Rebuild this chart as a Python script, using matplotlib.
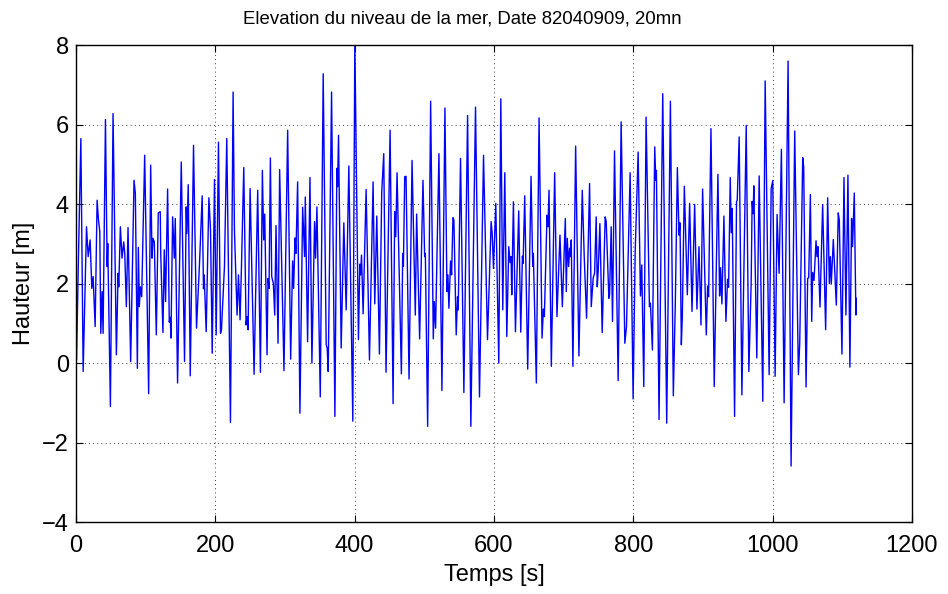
import numpy as np
import matplotlib
matplotlib.use("Agg")
import matplotlib.pyplot as plt

# Sea surface elevation record (peaks / troughs)
time_s = [
    0, 1.0, 3.3, 7.2, 10.5, 15.3, 17.7, 20.5, 22.9, 24.8, 27.7, 30.5, 32.5, 34.4, 35.8, 37.7, 39.1,
    42.5, 44.9, 45.8, 49.6, 53.4, 58.2, 60.6, 61.6, 63.9, 66.3, 68.7, 70.2, 72.5, 74.9, 78.7, 83.5,
    85.4, 88.3, 89.7, 91.1, 92.6, 94.5, 98.8, 104.5, 107.4, 109.3, 110.7, 112.6, 115.5, 118.3, 121.2,
    121.7, 125.0, 126.9, 128.8, 131.7, 134.1, 135.5, 136.5, 138.9, 141.3, 142.7, 146.0, 151.3, 156.0,
    158.4, 159.4, 161.3, 164.2, 168.9, 173.2, 177.5, 181.3, 183.2, 184.2, 187.1, 190.9, 193.3, 195.7,
    199.0, 201.4, 204.7, 207.6, 209.0, 213.3, 216.6, 221.9, 225.7, 227.6, 231.4, 233.4, 235.7, 237.7,
    241.0, 244.3, 245.7, 247.2, 250.1, 255.8, 261.0, 264.9, 267.7, 269.6, 271.1, 274.4, 275.8, 277.3,
    279.2, 281.1, 283.5, 285.4, 287.3, 290.2, 292.5, 298.7, 304.0, 308.3, 311.1, 312.6, 314.5, 315.9,
    318.3, 321.6, 325.5, 328.3, 329.3, 332.6, 336.0, 338.8, 342.6, 344.1, 346.0, 350.8, 355.0, 359.3,
    360.7, 362.2, 367.0, 371.8, 374.6, 375.6, 377.0, 380.8, 384.6, 388.0, 391.8, 397.5, 400.4, 405.6,
    407.5, 408.5, 410.0, 412.3, 416.6, 421.4, 426.6, 429.0, 431.9, 435.7, 439.0, 441.9, 445.2, 451.0,
    455.3, 457.6, 459.1, 461.0, 467.2, 469.1, 470.1, 472.0, 473.9, 478.2, 482.5, 487.2, 489.1, 493.4,
    498.2, 500.6, 501.6, 504.9, 509.2, 513.0, 514.4, 516.3, 521.1, 525.4, 529.7, 532.6, 534.0, 535.4,
    537.8, 539.3, 541.2, 542.6, 545.9, 547.8, 548.8, 552.1, 556.9, 562.2, 566.9, 573.6, 579.3, 585.1,
    590.8, 596.0, 597.5, 599.4, 602.7, 607.0, 609.9, 612.7, 615.6, 618.5, 621.3, 623.2, 624.7, 625.6,
    628.0, 630.9, 635.6, 638.5, 640.9, 641.9, 644.2, 648.5, 653.3, 655.7, 656.6, 660.9, 664.8, 669.1,
    671.0, 672.4, 676.2, 677.6, 679.1, 682.4, 687.2, 690.5, 694.8, 698.2, 702.5, 703.9, 705.3, 707.2,
    708.7, 709.6, 711.0, 713.4, 717.3, 722.0, 726.8, 729.7, 733.0, 737.3, 739.7, 742.5, 744.5, 746.8,
    748.3, 749.7, 752.1, 755.4, 759.7, 761.2, 765.0, 766.0, 768.3, 770.2, 773.1, 778.3, 782.6, 787.9,
    790.3, 795.5, 799.8, 802.7, 807.0, 810.3, 812.2, 815.1, 818.4, 823.2, 824.6, 827.5, 830.8, 832.3,
    833.2, 837.0, 842.3, 848.0, 853.3, 857.5, 860.4, 863.3, 865.7, 867.1, 869.0, 870.4, 873.3, 877.6,
    880.9, 884.3, 888.1, 891.4, 894.3, 897.2, 899.5, 904.8, 906.7, 908.1, 911.5, 916.2, 921.5, 923.9,
    925.3, 927.2, 930.1, 933.0, 935.3, 936.8, 939.2, 940.6, 942.0, 945.4, 948.2, 949.2, 952.0, 955.9,
    962.1, 965.9, 969.2, 970.6, 972.1, 973.0, 977.3, 980.7, 985.9, 989.3, 995.0, 997.9, 1000.2, 1003.6,
    1006.4, 1009.3, 1012.6, 1016.5, 1022.2, 1026.5, 1031.7, 1037.0, 1038.9, 1043.2, 1044.6, 1048.0,
    1050.3, 1051.8, 1054.2, 1056.1, 1057.5, 1059.4, 1062.3, 1063.7, 1065.1, 1068.0, 1071.8, 1076.1,
    1079.0, 1081.4, 1082.8, 1084.2, 1087.1, 1091.4, 1094.2, 1095.7, 1099.5, 1102.4, 1105.2, 1108.1,
    1110.9, 1113.3, 1114.7, 1117.2, 1119.5, 1120.0,
]
height_m = [
    1.59, 0.08, 2.26, 5.65, -0.21, 3.43, 2.68, 3.10, 1.88, 2.18, 0.92, 4.10, 3.60, 3.31, 0.75, 1.80, 0.75,
    6.13, 2.43, 3.01, -1.09, 6.28, 0.21, 2.26, 1.92, 3.43, 2.64, 3.05, 2.76, 1.42, 3.41, 0.04, 4.60,
    4.27, -0.13, 2.91, 1.42, 1.92, 1.67, 5.23, -0.77, 4.98, 2.64, 3.14, 3.05, 0.71, 3.78, 3.81,
    2.85, 0.77, 2.85, 1.55, 4.38, 1.03, 1.15, 0.63, 3.68, 2.64, 3.64, -0.50, 5.06, 0.04,
    3.93, 3.26, 4.49, -0.32, 5.48, 0.88, 2.51, 4.21, 1.87, 2.22, 0.79, 4.16, 3.35, 0.25,
    4.62, 0.71, 5.56, 0.75, 0.84, 2.43, 5.65, -1.49, 6.82, 3.35, 1.21, 2.22, 1.09, 2.43,
    4.92, 0.96, 1.17, 0.84, 4.39, -0.28, 4.35, -0.23, 4.85, 3.10, 3.75, 0.21, 2.13, 1.88,
    5.16, 2.18, 2.00, 1.21, 3.46, 0.50, 4.87, -0.19, 5.86, 0.10, 2.57, 1.88, 3.15, 2.76,
    4.56, -1.26, 3.92, 2.68, 4.18, 0.54, 4.67, 0.00, 3.56, 2.64, 3.93, -0.85, 7.28, 0.46,
    0.38, -0.21, 6.82, -1.34, 4.90, 4.44, 5.73, 0.38, 3.53, 1.34, 4.96, -1.46, 8.10, 0.59,
    2.49, 2.22, 2.72, 1.24, 4.37, 0.08, 4.56, 1.49, 3.70, 0.23, 4.29, 5.27, -0.23, 5.86,
    -1.02, 3.81, 3.18, 4.79, -0.27, 2.76, 2.44, 4.69, 4.70, -0.40, 5.10, 1.21, 3.75, 0.61,
    4.60, 2.68, 2.76, -1.59, 6.59, 0.61, 1.55, 0.88, 5.27, -0.69, 6.42, 1.80, 2.22, 1.38,
    2.57, 2.22, 3.66, 3.60, 0.71, 1.67, 1.34, 5.15, -0.74, 6.23, -1.59, 6.44, -0.85, 5.23,
    0.59, 3.56, 3.27, 2.38, 4.02, 0.00, 6.65, 1.34, 4.79, 0.67, 2.93, 2.53, 2.68, 1.72,
    4.06, 0.79, 3.83, 0.78, 2.69, 2.51, 4.21, -0.15, 4.70, 2.43, 2.76, -0.50, 6.17, 0.63,
    1.36, 1.17, 3.72, 3.43, 4.35, -0.08, 4.79, 1.17, 3.22, 1.42, 3.64, 1.80, 3.14, 2.43,
    2.89, 2.68, 3.10, -0.08, 5.46, 0.18, 4.35, 2.64, 1.13, 4.52, 1.42, 2.15, 2.26, 3.68,
    1.92, 2.34, 3.51, 0.77, 3.68, 3.56, 1.63, 1.72, 3.43, 1.05, 5.34, -0.44, 6.07, 0.50,
    0.92, 4.79, -0.90, 2.76, 5.31, 1.69, 2.47, -0.59, 6.19, 1.42, 1.51, 0.33, 5.44, 4.60,
    4.85, -1.42, 6.78, -1.51, 6.59, -0.82, 1.55, 4.92, 3.22, 3.53, 0.46, 1.17, 4.45, 1.72,
    4.02, 1.30, 3.99, 1.36, 2.93, 0.96, 4.38, 0.71, 1.94, 1.67, 5.90, -0.59, 4.75, 1.69,
    2.40, 1.49, 3.70, 1.05, 2.11, 1.91, 4.67, 3.28, 3.89, -1.34, 4.06, 4.10, 5.69, -0.80,
    5.98, -0.21, 2.01, 4.07, 3.76, 4.46, 0.13, 4.71, -0.96, 7.10, -0.29, 4.39, 4.59, -0.33,
    3.74, 2.26, 5.38, -1.00, 7.60, -2.59, 5.84, -0.29, 0.50, 5.17, 4.94, -0.60,
    2.13, 2.15, 4.24, 1.05, 2.28, 2.08, 3.08, 2.68, 2.93, 1.41, 3.99, 0.84,
    4.16, 2.00, 2.68, 2.00, 3.11, 1.46, 3.78, 3.60, 0.23, 4.67, 1.21, 4.73,
    -0.10, 3.64, 2.93, 4.28, 1.21, 1.63,
]

x_ticks = [0, 200, 400, 600, 800, 1000, 1200]
y_ticks = [-4, -2, 0, 2, 4, 6, 8]

plt.rcParams['font.family'] = ['Liberation Sans', 'DejaVu Sans']

fig = plt.figure(figsize=(9.48, 5.94), dpi=100)
ax = fig.add_axes([0.080, 0.121, 0.882, 0.803])

ax.plot(time_s, height_m, color=(0, 0, 1), linewidth=1.0)

ax.set_xlim(0, 1200)
ax.set_ylim(-4, 8)
ax.set_xticks(x_ticks)
ax.set_yticks(y_ticks)
ax.set_yticklabels([str(v).replace('-', '\u2212') for v in y_ticks])
ax.tick_params(direction='in', length=5, width=0.8, labelsize=17, top=True, right=True)
ax.tick_params(axis='x', pad=9)
ax.tick_params(axis='y', pad=5)
ax.grid(True, color='black', linestyle=(0, (1, 4)), linewidth=0.6)
for s in ax.spines.values():
    s.set_linewidth(1.0)

ax.set_xlabel('Temps [s]', fontsize=17, labelpad=5)
ax.set_ylabel('Hauteur [m]', fontsize=17, labelpad=5)
# MATLAB put the title a bit left of the axes centre
fig.text(462 / 948, 1 - 19 / 594, 'Elevation du niveau de la mer, Date 82040909, 20mn',
         fontsize=13.4, ha='center', va='center')

fig.savefig('out.png', dpi=100)
